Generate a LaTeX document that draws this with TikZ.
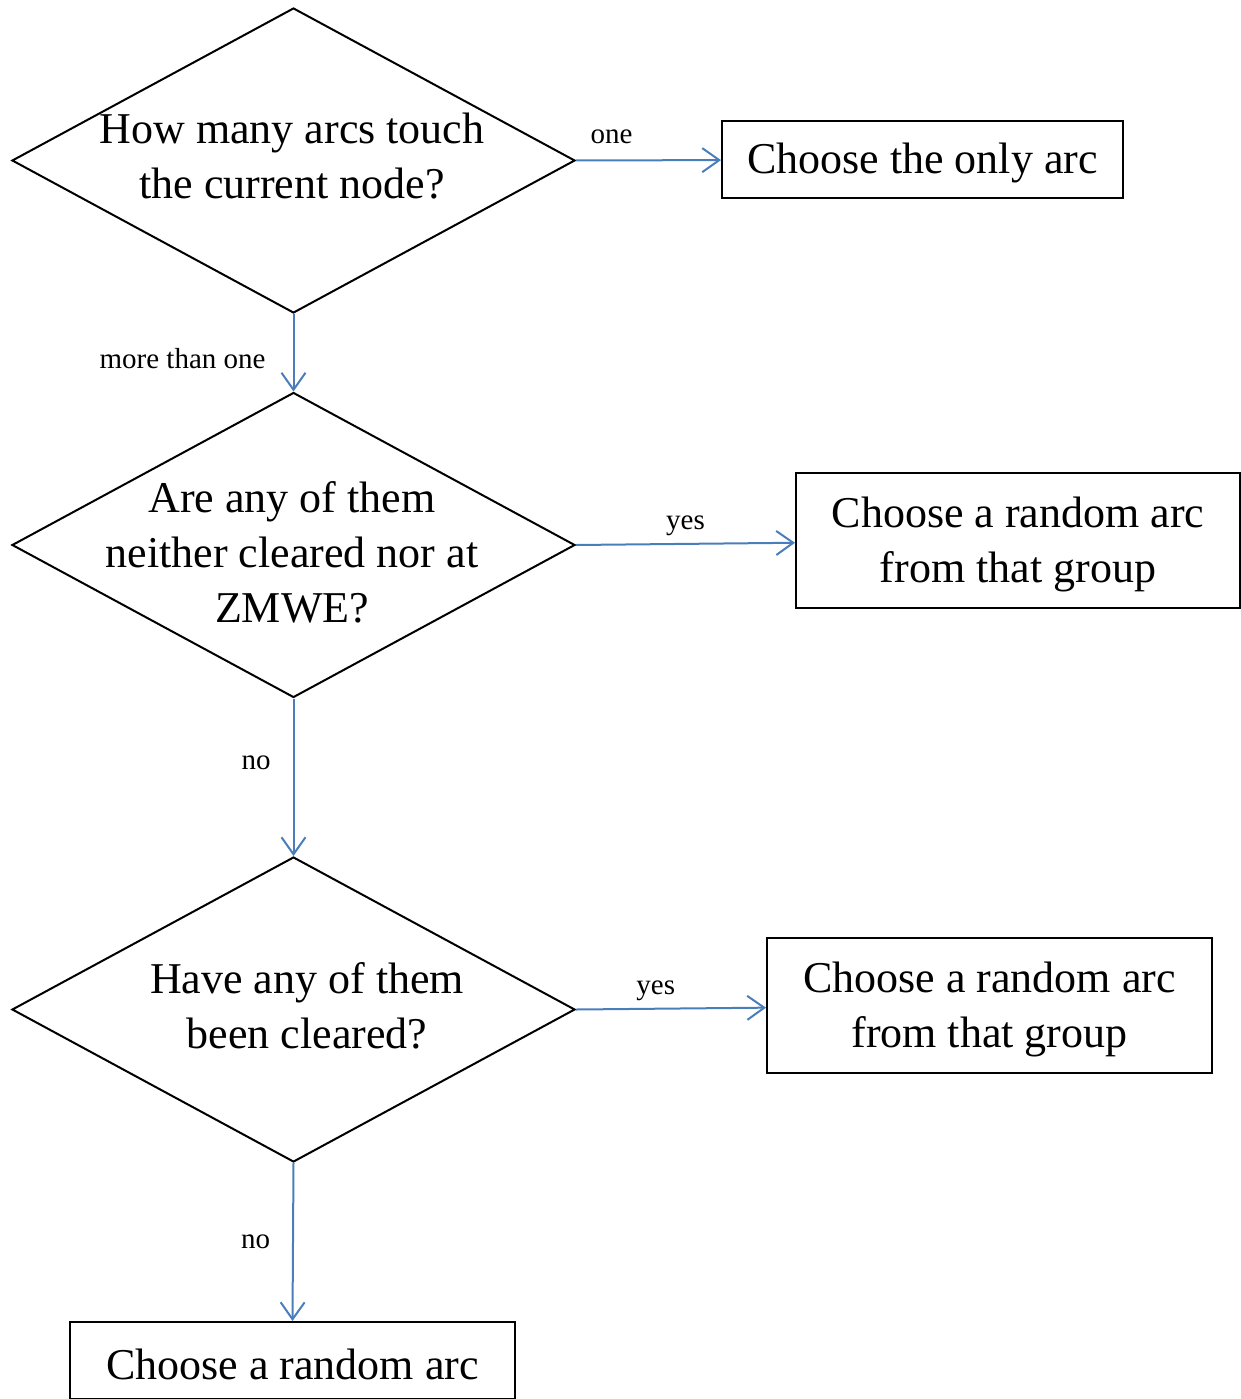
\documentclass[tikz,border=0pt]{standalone}
\usepackage{fontspec}
\setmainfont{Liberation Serif}
\usetikzlibrary{arrows.meta,shapes.geometric}
\definecolor{flowblue}{HTML}{4A7EBB}

\begin{document}
\begin{tikzpicture}[>={Straight Barb[length=17pt,width=24pt]}, x=1pt, y=-1pt]
	\tikzstyle{question} = [diamond,draw=black,line width=2pt,minimum width=563pt,minimum height=305pt,inner sep=0pt];
	\tikzstyle{qtext} = [align=center,inner sep=0pt,font=\fontsize{44}{55}\selectfont];
	\tikzstyle{answer} = [rectangle,draw=black,line width=2pt,align=center,inner sep=0pt,font=\fontsize{44}{55}\selectfont];
	\tikzstyle{choice} = [inner sep=0pt,text=black,font=\fontsize{29}{35}\selectfont];
	\useasboundingbox (0,0) rectangle (1241,1399);
	% questions
	\node[question] (q1) at (293.5,160.5) {};
	\node[question] (q2) at (293.5,545) {};
	\node[question] (q3) at (293.5,1009.5) {};
	\node[qtext] (q1text) at (292,156) {How many arcs touch\\the current node?};
	\node[qtext] (q2text) at (292,552) {Are any of them\\neither cleared nor at\\ZMWE?};
	\node[qtext] (q3text) at (307,1006) {Have any of them\\been cleared?};
	% outcomes
	\node[answer,text height=38pt,minimum width=401pt,minimum height=77pt] (only) at (922.5,159.5) {Choose the only arc};
	\node[answer,minimum width=444pt,minimum height=135pt] (fresh) at (1018,540.5) {\rule{0pt}{38pt}Choose a random arc\\from that group};
	\node[answer,minimum width=445pt,minimum height=135pt] (cleared) at (989.5,1005.5) {\rule{0pt}{38pt}Choose a random arc\\from that group};
	\node[answer,text height=38pt,minimum width=445pt,minimum height=77pt] (any) at (292.5,1360.5) {Choose a random arc};
	% connectors
	\draw[->,flowblue,line width=2pt] (q1.east) -- node[choice,pos=.245,anchor=base,yshift=17pt] {one} (only);
	\draw[->,flowblue,line width=2pt] (q1.south) -- node[choice,pos=.575,left=27pt] {more than one} (q2.north);
	\draw[->,flowblue,line width=2pt] (q2.east) -- node[choice,pos=.5,anchor=base,yshift=14pt] {yes} (fresh);
	\draw[->,flowblue,line width=2pt] (q2.south) -- node[choice,pos=.41,left=22pt] {no} (q3.north);
	\draw[->,flowblue,line width=2pt] (q3.east) -- node[choice,pos=.42,anchor=base,yshift=14pt] {yes} (cleared);
	\draw[->,flowblue,line width=2pt] (q3.south) -- node[choice,pos=.5,left=22pt] {no} (any.north);
\end{tikzpicture}
\end{document}
